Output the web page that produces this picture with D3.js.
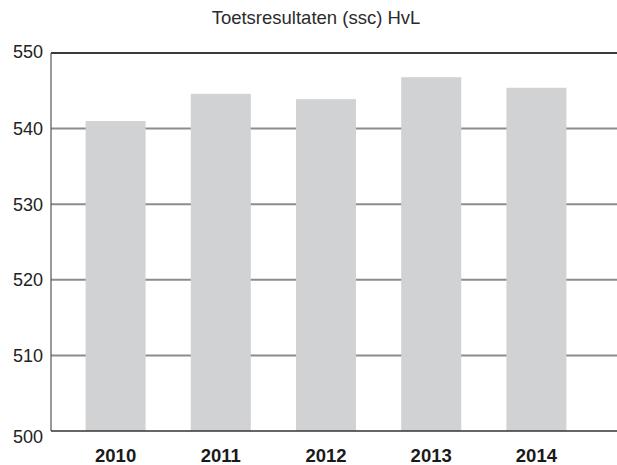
<!DOCTYPE html>
<html>
<head>
<meta charset="utf-8">
<script src="https://cdn.jsdelivr.net/npm/d3@7"></script>
<style>
  html, body { margin: 0; padding: 0; background: #fff; }
  svg { display: block; font-family: "Liberation Sans", Arial, Helvetica, sans-serif; }
</style>
</head>
<body>
<svg id="chart" width="617" height="465"></svg>
<script>
const title = "Toetsresultaten (ssc) HvL";
const years = ["2010", "2011", "2012", "2013", "2014"];
const scores = [541.0, 544.6, 543.9, 546.8, 545.4];
const yTicks = [500, 510, 520, 530, 540, 550];

(function () {
const svg = d3.select("#chart");
const plotLeft = 51, plotRight = 617, plotTop = 53, plotBottom = 431;

const y = d3.scaleLinear().domain([500, 550]).range([plotBottom, plotTop]);
const x = d3.scaleBand().domain(years).range([63, 589]).padding(0);
const barW = 60;

// title
svg.append("text")
  .attr("x", 316).attr("y", 24)
  .attr("text-anchor", "middle")
  .attr("font-size", 18.5)
  .attr("fill", "#2b2b2b")
  .text(title);

// gridlines (interior)
svg.append("g").selectAll("line")
  .data(yTicks.filter(t => t > 500 && t < 550))
  .join("line")
  .attr("x1", plotLeft).attr("x2", plotRight)
  .attr("y1", d => y(d)).attr("y2", d => y(d))
  .attr("stroke", "#8c8c8c").attr("stroke-width", 2);

// bars
svg.append("g").selectAll("rect")
  .data(years.map((yr, i) => ({ yr, v: scores[i] })))
  .join("rect")
  .attr("x", d => x(d.yr) + x.bandwidth() / 2 - barW / 2)
  .attr("width", barW)
  .attr("y", d => y(d.v))
  .attr("height", d => y(500) - y(d.v))
  .attr("fill", "#d1d2d4");

// top line at 550
svg.append("line")
  .attr("x1", plotLeft).attr("x2", plotRight)
  .attr("y1", y(550)).attr("y2", y(550))
  .attr("stroke", "#3a3a3a").attr("stroke-width", 1.8);

// left axis line
svg.append("line")
  .attr("x1", plotLeft).attr("x2", plotLeft)
  .attr("y1", y(550)).attr("y2", y(500))
  .attr("stroke", "#555").attr("stroke-width", 1.2);

// bottom axis line
svg.append("line")
  .attr("x1", plotLeft).attr("x2", plotRight)
  .attr("y1", y(500)).attr("y2", y(500))
  .attr("stroke", "#333").attr("stroke-width", 1.6);

// y tick labels
svg.append("g").selectAll("text")
  .data(yTicks)
  .join("text")
  .attr("x", 43)
  .attr("y", d => y(d) + (d === 500 ? 6 : d === 550 ? -1.5 : 0))
  .attr("dy", "0.35em")
  .attr("text-anchor", "end")
  .attr("font-size", 18)
  .attr("fill", "#222")
  .text(d => d);

// x labels
svg.append("g").selectAll("text")
  .data(years)
  .join("text")
  .attr("x", d => x(d) + x.bandwidth() / 2)
  .attr("y", 462)
  .attr("text-anchor", "middle")
  .attr("font-size", 18.5)
  .attr("font-weight", "bold")
  .attr("fill", "#1a1a1a")
  .text(d => d);
})();
</script>
</body>
</html>
